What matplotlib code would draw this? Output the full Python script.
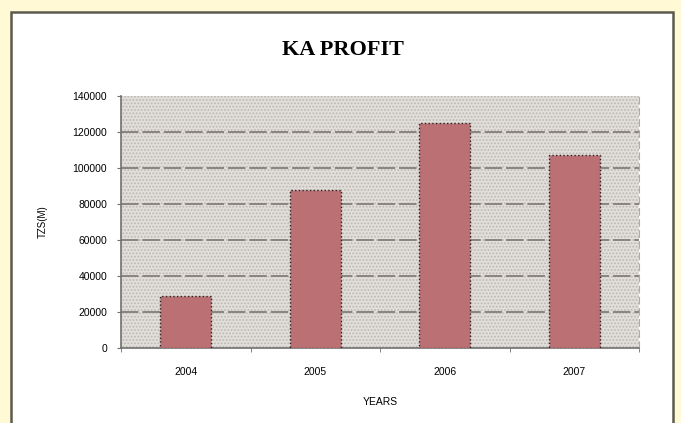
import matplotlib
matplotlib.use("Agg")
import matplotlib.pyplot as plt
from matplotlib.patches import Rectangle

years = ["2004", "2005", "2006", "2007"]
profit = [29000, 88000, 125000, 107000]
yticks = [0, 20000, 40000, 60000, 80000, 100000, 120000, 140000]

plt.rcParams['hatch.color'] = '#bcb8b4'
plt.rcParams['hatch.linewidth'] = 0.9

fig = plt.figure(figsize=(6.81, 4.23), dpi=100)
fig.patch.set_facecolor('#fff9d6')

# white panel with dark border
panel = Rectangle((11/681, -0.05), (673-11)/681, (423-12)/423 + 0.05,
                  transform=fig.transFigure, facecolor='white',
                  edgecolor='#5c5a4c', linewidth=1.8, zorder=-5)
fig.patches.append(panel)

ax = fig.add_axes([121/681, 1-348/423, (639-121)/681, (348-96)/423])
ax.set_zorder(2)
ax.set_facecolor('#e2deda')
ax.add_patch(Rectangle((0, 0), 1, 1, transform=ax.transAxes, facecolor='none',
                       hatch='.....', edgecolor='#bcb8b4', linewidth=0, zorder=0))

x = list(range(len(years)))
ax.bar(x, profit, width=0.39, color='#bb7074', edgecolor='#2a2020',
       linewidth=1.0, linestyle=':', zorder=3)

ax.set_xlim(-0.5, 3.5)
ax.set_ylim(0, 140000)
ax.set_yticks(yticks)
ax.set_yticklabels([str(v) for v in yticks], fontsize=7.5, family='Liberation Sans')
ax.set_xticks(x)
ax.set_xticklabels(years, fontsize=7.5, family='Liberation Sans')
ax.set_xticks([-0.5, 0.5, 1.5, 2.5, 3.5], minor=True)
ax.tick_params(axis='x', which='major', length=0, pad=14)
ax.tick_params(axis='x', which='minor', length=3, color='#707070', direction='out')
ax.tick_params(axis='y', length=3, color='#707070', direction='out', pad=7)

for v in yticks[1:-1]:
    ax.axhline(v, color='#8a8480', linewidth=1.4, linestyle=(0, (9, 2)), zorder=1)

ax.spines['top'].set_visible(False)
ax.spines['right'].set_color('#b0aca8')
ax.spines['right'].set_linestyle((0, (6, 4)))
ax.spines['left'].set_color('#707070')
ax.spines['bottom'].set_color('#707070')
ax.spines['left'].set_linewidth(1.2)
ax.spines['bottom'].set_linewidth(1.2)

ax.set_xlabel("YEARS", fontsize=7.5, family='Liberation Sans', labelpad=14)
ax.set_ylabel("TZS(M)", fontsize=7, family='Liberation Sans', labelpad=18)

fig.text(343/681, 1-50/423, "KA PROFIT", ha='center', va='center',
         fontsize=16, fontweight='bold', family='Liberation Serif')

fig.savefig("out.png", dpi=100, facecolor=fig.get_facecolor())
